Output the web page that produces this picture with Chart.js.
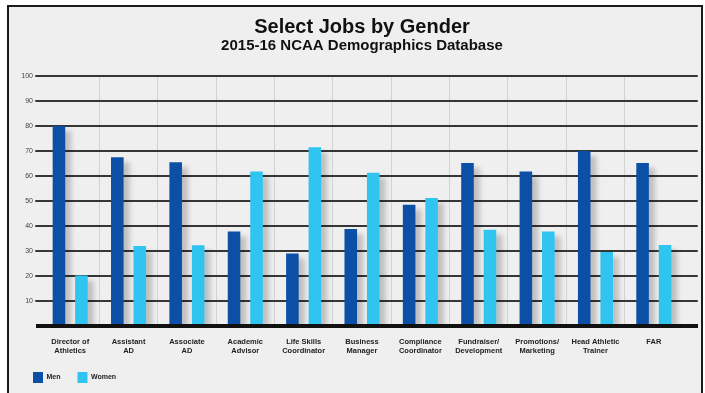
<!DOCTYPE html>
<html>
<head>
<meta charset="utf-8">
<title>Select Jobs by Gender</title>
<script src="https://cdn.jsdelivr.net/npm/chart.js@4.4.1/dist/chart.umd.min.js"></script>
<style>
  html, body { margin: 0; padding: 0; background: #fff; }
  body { width: 705px; height: 393px; position: relative; overflow: hidden; }
  .frame {
    position: absolute; left: 7px; top: 5px; width: 692px; height: 400px;
    border: 2px solid #1a1a1a; border-bottom: none; background: #efefef;
  }
  #chart { position: absolute; left: 0; top: 0; }
</style>
</head>
<body>
<div class="frame"></div>
<canvas id="chart" width="705" height="393"></canvas>
<script>
// Job categories (two-line labels)
const jobs = [
    ['Director of', 'Athletics'], ['Assistant', 'AD'], ['Associate', 'AD'],
    ['Academic', 'Advisor'], ['Life Skills', 'Coordinator'], ['Business', 'Manager'],
    ['Compliance', 'Coordinator'], ['Fundraiser/', 'Development'], ['Promotions/', 'Marketing'],
    ['Head Athletic', 'Trainer'], ['FAR']
];

// Percent of each job held by men / women
const menValues = [80, 67.5, 65.5, 37.8, 29, 38.8, 48.5, 65.2, 61.8, 70, 65.2];
const womenValues = [20.2, 32, 32.3, 61.8, 71.5, 61.3, 51.2, 38.5, 37.8, 29.6, 32.4];

// Y axis ticks
const yMin = 0;
const yMax = 100;
const yStep = 10;

const MEN_COLOR = '#0b50a6';
const WOMEN_COLOR = '#30c5f0';

Chart.defaults.font.family = "'Liberation Sans', Arial, sans-serif";

// Horizontal rules reach past the last category, bars carry a soft shadow,
// and the zero line is drawn heavy on top of the bars.
const rulesAndShadow = {
    id: 'rulesAndShadow',
    beforeDatasetsDraw(chart) {
        const { ctx, chartArea, scales } = chart;
        const y = scales.y;
        ctx.save();
        ctx.strokeStyle = '#363636';
        ctx.lineWidth = 2;
        ctx.lineCap = 'round';
        y.ticks.forEach(t => {
            if (t.value === 0) return;
            const py = Math.round(y.getPixelForValue(t.value));
            ctx.beginPath();
            ctx.moveTo(chartArea.left - 5, py);
            ctx.lineTo(chartArea.right + 14, py);
            ctx.stroke();
        });
        ctx.restore();

        ctx.save();
        ctx.shadowColor = 'rgba(0,0,0,0.2)';
        ctx.shadowOffsetX = 6;
        ctx.shadowOffsetY = 5;
        ctx.shadowBlur = 5;
    },
    afterDatasetsDraw(chart) {
        const { ctx, chartArea, scales } = chart;
        ctx.restore();
        const py = scales.y.getPixelForValue(0);
        ctx.save();
        ctx.strokeStyle = '#111';
        ctx.lineWidth = 4;
        ctx.beginPath();
        ctx.moveTo(chartArea.left - 5, py);
        ctx.lineTo(chartArea.right + 15, py);
        ctx.stroke();
        ctx.restore();
    }
};

new Chart(document.getElementById('chart'), {
    type: 'bar',
    data: {
        labels: jobs,
        datasets: [
            {
                label: 'Men',
                data: menValues,
                backgroundColor: MEN_COLOR,
                borderWidth: 0,
                categoryPercentage: 0.77,
                barPercentage: 0.56
            },
            {
                label: 'Women',
                data: womenValues,
                backgroundColor: WOMEN_COLOR,
                borderWidth: 0,
                categoryPercentage: 0.77,
                barPercentage: 0.56
            }
        ]
    },
    options: {
        responsive: false,
        animation: false,
        events: [],
        layout: { padding: { left: 16, right: 22, top: 17, bottom: 0 } },
        plugins: {
            title: {
                display: true,
                text: 'Select Jobs by Gender',
                fullSize: false,
                color: '#111',
                font: { size: 20, weight: 'bold', lineHeight: 1 },
                padding: { top: 0, bottom: 0 }
            },
            subtitle: {
                display: true,
                text: '2015-16 NCAA Demographics Database',
                fullSize: false,
                color: '#111',
                font: { size: 15, weight: 'bold', lineHeight: 1 },
                padding: { top: 1, bottom: 23 }
            },
            legend: {
                position: 'bottom',
                align: 'start',
                labels: {
                    boxWidth: 10,
                    boxHeight: 11,
                    padding: 17,
                    color: '#222',
                    font: { size: 7, weight: 'bold' }
                }
            },
            tooltip: { enabled: false }
        },
        scales: {
            x: {
                offset: true,
                afterFit: scale => { scale.height = 29; },
                border: { display: false },
                grid: {
                    offset: true,
                    drawTicks: false,
                    lineWidth: 1,
                    color: c => (c.index === undefined || c.index === 0) ? 'rgba(0,0,0,0)' : '#d2d2d2'
                },
                ticks: {
                    autoSkip: false,
                    maxRotation: 0,
                    padding: 11.5,
                    color: '#222',
                    font: { size: 7.5, weight: 'bold', lineHeight: 1.2 }
                }
            },
            y: {
                min: yMin,
                max: yMax,
                afterFit: scale => { scale.width = 25; },
                border: { display: false },
                grid: { display: false, drawTicks: false },
                ticks: {
                    stepSize: yStep,
                    padding: 8,
                    color: '#444',
                    font: { size: 7 },
                    callback: v => v === 0 ? '' : v
                }
            }
        }
    },
    plugins: [rulesAndShadow]
});
</script>
</body>
</html>
